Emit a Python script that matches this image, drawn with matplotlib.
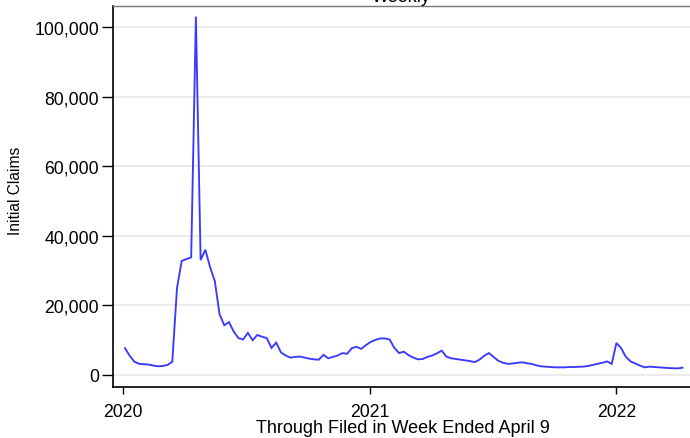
import matplotlib
matplotlib.use("Agg")
import matplotlib.pyplot as plt
import matplotlib.ticker as mticker
import pandas as pd
import datetime as dt

plt.rcParams['font.family'] = ['Liberation Sans', 'DejaVu Sans']

# Weekly initial claims, weeks ending Saturday, 2020-01-04 .. 2022-04-09
week_start = "2020-01-04"
claims = [
    7700, 5500, 3800, 3200, 3100, 3000, 2700, 2500, 2600, 2900,
    3800, 25000, 32800, 33300, 33800, 103000, 33000, 36000, 31000, 27000,
    17500, 14300, 15200, 12500, 10600, 10200, 12100, 10000, 11500, 11000,
    10600, 7800, 9300, 6500, 5600, 5000, 5200, 5300, 5000, 4700,
    4500, 4400, 5800, 4800, 5200, 5600, 6300, 6100, 7700, 8100,
    7500, 8600, 9500, 10100, 10500, 10500, 10200, 7800, 6300, 6700,
    5700, 5000, 4500, 4600, 5200, 5600, 6200, 7000, 5300, 4800,
    4600, 4400, 4200, 4000, 3700, 4400, 5500, 6300, 5200, 4100,
    3500, 3200, 3300, 3500, 3650, 3400, 3200, 2800, 2500, 2400,
    2300, 2200, 2200, 2200, 2300, 2300, 2350, 2400, 2600, 2900,
    3200, 3500, 3900, 3200, 9200, 7700, 5200, 3900, 3300, 2700,
    2200, 2400, 2300, 2200, 2100, 2000, 1950, 1900, 2100,
]
weeks = pd.date_range(week_start, periods=len(claims), freq="7D")

year_ticks = [2020, 2021, 2022]
y_ticks = [0, 20000, 40000, 60000, 80000, 100000]

W, H = 690, 439
fig = plt.figure(figsize=(W / 100, H / 100), dpi=100)
left, right, top, bottom = 113, 700, 7, 388
ax = fig.add_axes([left / W, 1 - bottom / H, (right - left) / W, (bottom - top) / H])

ax.plot(weeks, claims, color="#3a3aff", lw=1.35, solid_joinstyle="miter")

# x scale: 2020-01-01 at pixel 123, 0.675 px per day
px_per_day = 0.675
x0 = dt.datetime(2020, 1, 1)
ax.set_xlim(x0 - dt.timedelta(days=(123 - left) / px_per_day),
            x0 + dt.timedelta(days=(right - 123) / px_per_day))
# y scale: 0 at pixel 376, 100000 at pixel 28
per_px = 100000 / (376 - 28)
ax.set_ylim(-(bottom - 376) * per_px, (376 - top) * per_px)

ax.set_xticks([dt.datetime(y, 1, 1) for y in year_ticks])
ax.set_xticklabels([str(y) for y in year_ticks])
ax.set_yticks(y_ticks)
ax.yaxis.set_major_formatter(mticker.FuncFormatter(lambda v, p: f"{int(v):,}"))

ax.tick_params(axis="y", length=8, width=1, pad=2, labelsize=12.7, colors="black")
ax.tick_params(axis="x", length=5, width=1, pad=6.3, labelsize=12.7, colors="black")

ax.grid(axis="y", color="#e8e8e8", lw=1.2)
ax.set_axisbelow(True)

for s in ["left", "bottom"]:
    ax.spines[s].set_color("black")
    ax.spines[s].set_linewidth(1.2)
ax.spines["top"].set_color("#777777")
ax.spines["top"].set_linewidth(1.0)
ax.spines["right"].set_visible(False)

fig.text(16 / W, 1 - 191 / H, "Initial Claims", rotation=90, ha="center", va="center",
         fontsize=11.2)
fig.text(403 / W, 1 - 428.6 / H, "Through Filed in Week Ended April 9", ha="center",
         va="center", fontsize=13)
fig.text(401 / W, 1 - 1.5 / H, "Weekly", ha="center", va="baseline", fontsize=13)

fig.savefig("out.png", dpi=100, facecolor="white")
